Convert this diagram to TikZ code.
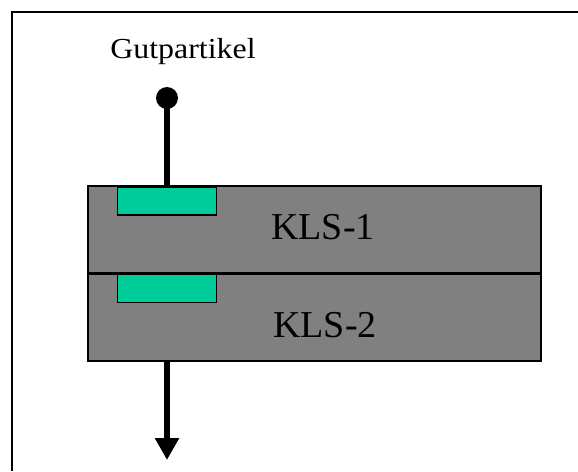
\documentclass[tikz,border=0pt]{standalone}
\usepackage{fontspec}
\setmainfont{Liberation Serif}
\usetikzlibrary{arrows.meta}
\definecolor{boxgray}{RGB}{128,128,128}
\definecolor{slotgreen}{RGB}{0,204,153}
\tikzset{
  kls/.style={draw=black, line width=2pt, fill=boxgray, minimum width=453pt, minimum height=87pt, inner sep=0pt, outer sep=0pt},
  slot/.style={draw=black, line width=1.6pt, fill=slotgreen, minimum width=99pt, minimum height=28pt, inner sep=0pt},
  lbl/.style={font=\fontsize{38}{38}\selectfont, inner sep=0pt},
  flow/.style={line width=5.5pt},
}
\begin{document}
\begin{tikzpicture}[x=1pt,y=-1pt]
\useasboundingbox (0,0) rectangle (578,471);
\fill[white] (0,0) rectangle (578,471);
\draw[line width=2.2pt] (12,471) -- (12,12) -- (578,12);
\node[kls] (k1) at (314.5,229.5) {};
\node[kls] (k2) at (314.5,317.5) {};
\node[slot] (s1) at (167,201) {};
\node[slot] (s2) at (167,288.5) {};
\node[lbl, anchor=base] (t1) at (323,239) {KLS-1};
\node[lbl, anchor=base] (t2) at (325,337) {KLS-2};
\node[font=\fontsize{29}{29}\selectfont, inner sep=0pt, anchor=base, xscale=1.1] (gp) at (183,58) {Gutpartikel};
\fill (167,98) circle (11) coordinate (dot);
\coordinate (tip) at (167,460);
\draw[flow] (dot) -- (167,186);
\draw[flow, -{Triangle[length=22pt,width=23pt]}] (167,362) -- (tip);
\end{tikzpicture}
\end{document}
